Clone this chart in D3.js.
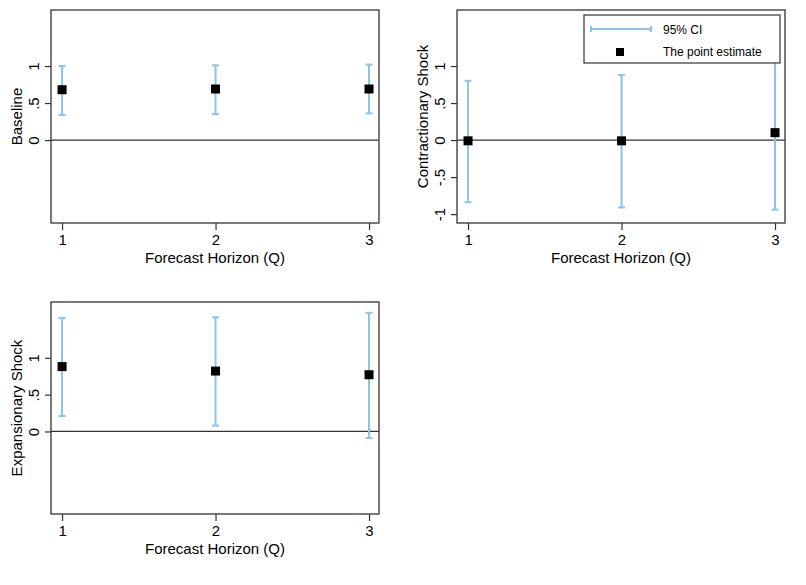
<!DOCTYPE html>
<html>
<head>
<meta charset="utf-8">
<script src="https://cdn.jsdelivr.net/npm/d3@7"></script>
<style>
  body { margin: 0; background: #fff; }
  svg { display: block; font-family: "Liberation Sans", Arial, sans-serif; }
  .frame { fill: none; stroke: #333; stroke-width: 1.3; }
  .axis path { display: none; }
  .axis line { stroke: #333; stroke-width: 1.2; }
  .axis text { fill: #000; font-size: 15px; }
  .ci { stroke: #8ec3e5; stroke-width: 2; }
  .est { fill: #000; }
</style>
</head>
<body>
<script>
const horizons = [1, 2, 3]

const baselineEst = [0.68, 0.69, 0.69]
const baselineLo = [0.34, 0.35, 0.36]
const baselineHi = [1.00, 1.01, 1.02]

const contrEst = [-0.01, -0.01, 0.10]
const contrLo = [-0.84, -0.91, -0.94]
const contrHi = [0.80, 0.88, 1.14]

const expEst = [0.88, 0.82, 0.77]
const expLo = [0.21, 0.08, -0.09]
const expHi = [1.54, 1.55, 1.61]

const xTicks = [1, 2, 3]
const yTicksShort = [0, 0.5, 1]
const yTicksFull = [-1, -0.5, 0, 0.5, 1]
const xTitle = 'Forecast Horizon (Q)'

const panels = [
  {title: 'Baseline', est: baselineEst, lo: baselineLo, hi: baselineHi, yTicks: yTicksShort,
   left: 51, top: 10, width: 328, height: 213},
  {title: 'Contractionary Shock', est: contrEst, lo: contrLo, hi: contrHi, yTicks: yTicksFull,
   left: 457, top: 10, width: 328, height: 213, legend: true},
  {title: 'Expansionary Shock', est: expEst, lo: expLo, hi: expHi, yTicks: yTicksShort,
   left: 51, top: 302, width: 328, height: 212}
]

// stata style: .5, -.5
const fmt = v => String(v).replace('0.', '.')

const svg = d3.select('body').append('svg').attr('width', 806).attr('height', 585)

panels.forEach(p => {
  const g = svg.append('g').attr('transform', `translate(${p.left},${p.top})`)
  const x = d3.scaleLinear().domain([0.928, 3.065]).range([0, p.width])
  const y = d3.scaleLinear().domain([-1.12, 1.757]).range([p.height, 0])
  const rows = horizons.map((h, i) => ({h, est: p.est[i], lo: p.lo[i], hi: p.hi[i]}))

  // zero line
  g.append('line').attr('x1', 0).attr('x2', p.width)
    .attr('y1', y(0)).attr('y2', y(0)).attr('stroke', '#333').attr('stroke-width', 1.2)

  // confidence intervals
  const ci = g.selectAll('.cig').data(rows).join('g').attr('class', 'cig')
  ci.append('line').attr('class', 'ci')
    .attr('x1', d => x(d.h)).attr('x2', d => x(d.h))
    .attr('y1', d => y(d.lo)).attr('y2', d => y(d.hi))
  ci.append('line').attr('class', 'ci')
    .attr('x1', d => x(d.h) - 3.5).attr('x2', d => x(d.h) + 3.5)
    .attr('y1', d => y(d.lo)).attr('y2', d => y(d.lo))
  ci.append('line').attr('class', 'ci')
    .attr('x1', d => x(d.h) - 3.5).attr('x2', d => x(d.h) + 3.5)
    .attr('y1', d => y(d.hi)).attr('y2', d => y(d.hi))

  g.selectAll('.est').data(rows).join('rect').attr('class', 'est')
    .attr('x', d => x(d.h) - 4.5).attr('y', d => y(d.est) - 4.5)
    .attr('width', 9).attr('height', 9)

  g.append('rect').attr('class', 'frame').attr('width', p.width).attr('height', p.height)

  // axes
  g.append('g').attr('class', 'axis').attr('transform', `translate(0,${p.height})`)
    .call(d3.axisBottom(x).tickValues(xTicks).tickFormat(d3.format('d')).tickSize(7).tickPadding(4))

  const ya = g.append('g').attr('class', 'axis')
    .call(d3.axisLeft(y).tickValues(p.yTicks).tickFormat(fmt).tickSize(6))
  ya.selectAll('text')
    .attr('transform', 'translate(-12,0) rotate(-90)')
    .attr('x', 0).attr('y', 0).attr('dy', '0').attr('text-anchor', 'middle')

  g.append('text').attr('x', p.width / 2).attr('y', p.height + 40)
    .attr('text-anchor', 'middle').attr('font-size', 15).text(xTitle)
  g.append('text').attr('transform', `translate(-29,${p.height / 2}) rotate(-90)`)
    .attr('text-anchor', 'middle').attr('font-size', 15).text(p.title)

  if (p.legend) {
    const lg = g.append('g').attr('transform', `translate(${584 - p.left},${15 - p.top})`)
    lg.append('rect').attr('width', 196).attr('height', 48)
      .attr('fill', '#fff').attr('stroke', '#333').attr('stroke-width', 1.2)
    lg.append('line').attr('class', 'ci').attr('stroke-width', 1.5)
      .attr('x1', 7).attr('x2', 67).attr('y1', 14).attr('y2', 14)
    lg.selectAll('.cap').data([7, 67]).join('line').attr('class', 'ci').attr('stroke-width', 1.5)
      .attr('x1', d => d).attr('x2', d => d).attr('y1', 11).attr('y2', 17)
    lg.append('rect').attr('class', 'est').attr('x', 32).attr('y', 33).attr('width', 8).attr('height', 8)
    lg.append('text').attr('x', 79).attr('y', 19).attr('font-size', 12).text('95% CI')
    lg.append('text').attr('x', 79).attr('y', 41).attr('font-size', 12).text('The point estimate')
  }
})
</script>
</body>
</html>
